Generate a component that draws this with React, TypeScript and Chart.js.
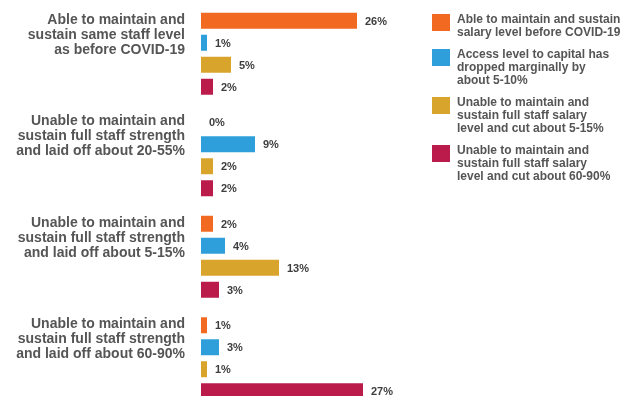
import React, { useEffect, useRef } from "react";
import { Chart, registerables } from "chart.js";

Chart.register(...registerables);

const categories: string[][] = [
  ["Able to maintain and", "sustain same staff level", "as before COVID-19"],
  ["Unable to maintain and", "sustain full staff strength", "and laid off about 20-55%"],
  ["Unable to maintain and", "sustain full staff strength", "and laid off about 5-15%"],
  ["Unable to maintain and", "sustain full staff strength", "and laid off about 60-90%"],
];

const seriesLegend: string[][] = [
  ["Able to maintain and sustain", "salary level before COVID-19"],
  ["Access level to capital has", "dropped marginally by", "about 5-10%"],
  ["Unable to maintain and", "sustain full staff salary", "level and cut about 5-15%"],
  ["Unable to maintain and", "sustain full staff salary", "level and cut about 60-90%"],
];

const salaryMaintained = [26, 0, 2, 1];
const capitalDropped = [1, 9, 4, 3];
const salaryCut5to15 = [5, 2, 13, 1];
const salaryCut60to90 = [2, 2, 3, 27];

const colors = ["#F26A22", "#2E9FDA", "#D9A42B", "#BA1B4B"];

const valueLabelPlugin = {
  id: "valueLabels",
  afterDatasetsDraw(chart: any) {
    const ctx = chart.ctx;
    ctx.save();
    ctx.font = "bold 11px 'Liberation Sans', Arial, sans-serif";
    ctx.fillStyle = "#3d3d3d";
    ctx.textAlign = "left";
    ctx.textBaseline = "middle";
    chart.data.datasets.forEach((ds: any, i: number) => {
      const meta = chart.getDatasetMeta(i);
      meta.data.forEach((el: any, j: number) => {
        ctx.fillText(`${ds.data[j]}%`, el.x + 8, el.y + 1);
      });
    });
    ctx.restore();
  },
};

const legendPlugin = {
  id: "sideLegend",
  afterDraw(chart: any) {
    const ctx = chart.ctx;
    ctx.save();
    ctx.font = "bold 12px 'Liberation Sans', Arial, sans-serif";
    ctx.textAlign = "left";
    ctx.textBaseline = "middle";
    let top = 14;
    seriesLegend.forEach((lines, i) => {
      ctx.fillStyle = colors[i];
      ctx.fillRect(432, top, 18, 17);
      ctx.fillStyle = "#555555";
      lines.forEach((line, k) => {
        ctx.fillText(line, 457, top + 6 + k * 13);
      });
      top += lines.length * 13 + 9;
    });
    ctx.restore();
  },
};

export default function App() {
  const ref = useRef<HTMLCanvasElement | null>(null);

  useEffect(() => {
    if (!ref.current) return;
    const series = [salaryMaintained, capitalDropped, salaryCut5to15, salaryCut60to90];
    const chart = new Chart(ref.current, {
      type: "bar",
      data: {
        labels: categories,
        datasets: series.map((d, i) => ({
          label: seriesLegend[i].join(" "),
          data: d,
          backgroundColor: colors[i],
          borderWidth: 0,
          categoryPercentage: 0.867,
          barPercentage: 0.727,
        })),
      },
      options: {
        indexAxis: "y",
        animation: false,
        responsive: true,
        maintainAspectRatio: false,
        layout: { padding: { top: 3, bottom: 3, left: 0, right: 248 } },
        plugins: {
          legend: { display: false },
          tooltip: { enabled: false },
        },
        scales: {
          x: {
            display: false,
            min: 0,
            max: 30,
          },
          y: {
            border: { display: false },
            grid: { display: false, drawTicks: false },
            ticks: {
              color: "#555555",
              padding: 16,
              labelOffset: -19,
              font: { family: "'Liberation Sans', Arial, sans-serif", size: 14, weight: "bold", lineHeight: "15px" },
            },
            afterFit: (scale: any) => {
              scale.width = 201;
              scale.paddingTop = 0;
              scale.paddingBottom = 0;
            },
          },
        },
      },
      plugins: [valueLabelPlugin, legendPlugin],
    });
    return () => chart.destroy();
  }, []);

  return (
    <div style={{ position: "absolute", left: 0, top: 0, width: 629, height: 412, background: "#ffffff" }}>
      <canvas ref={ref} />
    </div>
  );
}
